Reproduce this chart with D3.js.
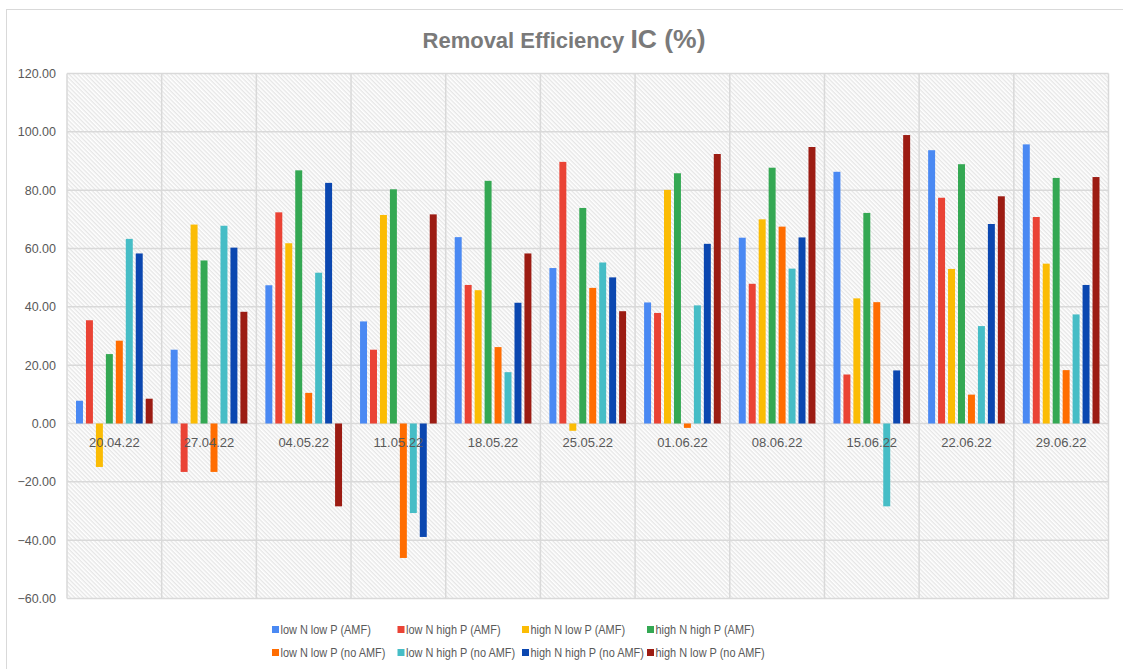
<!DOCTYPE html>
<html>
<head>
<meta charset="utf-8">
<script src="https://cdn.jsdelivr.net/npm/d3@7"></script>
<style>
  html, body { margin: 0; padding: 0; background: #fff; }
  svg { display: block; font-family: "Liberation Sans", Arial, sans-serif; }
</style>
</head>
<body>
<svg id="chart" width="1123" height="669"></svg>
<script>
const categories = ["20.04.22","27.04.22","04.05.22","11.05.22","18.05.22","25.05.22","01.06.22","08.06.22","15.06.22","22.06.22","29.06.22"];
const seriesNames = ["low N low P (AMF)","low N high P (AMF)","high N low P (AMF)","high N high P (AMF)","low N low P (no AMF)","low N high P (no AMF)","high N high P (no AMF)","high N low P (no AMF)"];
const seriesColors = ["#4a89f3","#ea4335","#fbbc04","#34a853","#ff6d01","#46bdc6","#0b47b0","#9c1c13"];
const lowNlowP_AMF     = [7.8, 25.3, 47.4, 35.0, 63.9, 53.3, 41.5, 63.7, 86.3, 93.7, 95.7];
const lowNhighP_AMF    = [35.4, -16.6, 72.4, 25.3, 47.5, 89.7, 37.9, 47.9, 16.8, 77.4, 70.8];
const highNlowP_AMF    = [-14.9, 68.2, 61.8, 71.5, 45.7, -2.5, 80.1, 70.0, 42.9, 53.0, 54.8];
const highNhighP_AMF   = [23.8, 55.9, 86.8, 80.3, 83.2, 73.9, 85.8, 87.7, 72.2, 88.9, 84.2];
const lowNlowP_noAMF   = [28.4, -16.6, 10.5, -46.1, 26.2, 46.5, -1.5, 67.5, 41.6, 9.9, 18.3];
const lowNhighP_noAMF  = [63.3, 67.8, 51.7, -30.7, 17.6, 55.2, 40.5, 53.1, -28.4, 33.4, 37.4];
const highNhighP_noAMF = [58.3, 60.3, 82.5, -38.9, 41.4, 50.1, 61.6, 63.8, 18.2, 68.4, 47.5];
const highNlowP_noAMF  = [8.5, 38.3, -28.4, 71.7, 58.3, 38.5, 92.4, 94.8, 98.9, 77.9, 84.5];
const seriesValues = [lowNlowP_AMF, lowNhighP_AMF, highNlowP_AMF, highNhighP_AMF, lowNlowP_noAMF, lowNhighP_noAMF, highNhighP_noAMF, highNlowP_noAMF];
const yTicks = [-60, -40, -20, 0, 20, 40, 60, 80, 100, 120];

(function () {
const svg = d3.select("#chart");
const W = 1123, H = 669;
const pLeft = 67, pRight = 1108.5, pTop = 73.5, pBottom = 598.5;

// outer frame
svg.append("rect").attr("x", 6.5).attr("y", 9.5).attr("width", W + 20).attr("height", H + 20)
  .attr("fill", "#fff").attr("stroke", "#d9d9d9").attr("stroke-width", 1);

// hatch pattern
const defs = svg.append("defs");
const pat = defs.append("pattern").attr("id", "hatch").attr("patternUnits", "userSpaceOnUse")
  .attr("width", 3).attr("height", 3).attr("patternTransform", "rotate(45)");
pat.append("rect").attr("width", 3).attr("height", 3).attr("fill", "#ffffff");
pat.append("line").attr("x1", 0).attr("y1", 0.75).attr("x2", 3).attr("y2", 0.75)
  .attr("stroke", "#e0e0e0").attr("stroke-width", 1.1);

const x0 = d3.scaleBand().domain(categories).range([pLeft, pRight]).padding(0);
const x1 = d3.scaleBand().domain(d3.range(seriesNames.length))
  .range([9, x0.bandwidth() - 9]).paddingInner(0.3).paddingOuter(0);
const y = d3.scaleLinear().domain([-60, 120]).range([pBottom, pTop]);

svg.append("rect").attr("x", pLeft).attr("y", pTop).attr("width", pRight - pLeft).attr("height", pBottom - pTop)
  .attr("fill", "url(#hatch)");

// horizontal gridlines
svg.append("g").selectAll("line").data(yTicks).join("line")
  .attr("x1", pLeft).attr("x2", pRight)
  .attr("y1", d => y(d)).attr("y2", d => y(d))
  .attr("stroke", "#d9d9d9").attr("stroke-width", 1.5);
// vertical gridlines at category boundaries
const bounds = categories.map(c => x0(c)).concat([pRight]);
svg.append("g").selectAll("line").data(bounds).join("line")
  .attr("x1", d => d).attr("x2", d => d)
  .attr("y1", pTop).attr("y2", pBottom)
  .attr("stroke", "#d9d9d9").attr("stroke-width", 1.5);

// y axis labels
const yAxis = d3.axisLeft(y).tickValues(yTicks).tickFormat(d3.format(".2f")).tickSize(0).tickPadding(0);
const ya = svg.append("g").attr("transform", `translate(${56},0)`).call(yAxis);
ya.select(".domain").remove();
ya.selectAll("text").attr("fill", "#595959").style("font-size", "12.5px")
  .style("font-family", "'Liberation Sans', Arial, sans-serif");

// bars
const groups = svg.append("g").selectAll("g").data(categories).join("g")
  .attr("transform", c => `translate(${x0(c)},0)`);
groups.selectAll("rect").data((c, i) => seriesValues.map((vals, s) => ({s, v: vals[i]}))).join("rect")
  .attr("x", d => x1(d.s))
  .attr("width", x1.bandwidth())
  .attr("y", d => y(Math.max(0, d.v)))
  .attr("height", d => Math.abs(y(d.v) - y(0)))
  .attr("fill", d => seriesColors[d.s]);

// category labels
svg.append("g").selectAll("text").data(categories).join("text")
  .attr("x", c => x0(c) + x0.bandwidth() / 2)
  .attr("y", y(0) + 23)
  .attr("text-anchor", "middle")
  .attr("fill", "#595959")
  .style("font-size", "13px")
  .text(c => c);

// title
const title = svg.append("text").attr("x", 564).attr("y", 48).attr("text-anchor", "middle")
  .attr("fill", "#7a7a7a").style("font-weight", "bold");
title.append("tspan").style("font-size", "22px").text("Removal Efficiency ");
title.append("tspan").style("font-size", "26.5px").text("IC (%)");

// legend
const legendX = [272, 397.5, 522, 647];
const legendY = [629.5, 652.5];
const leg = svg.append("g").selectAll("g").data(seriesNames).join("g")
  .attr("transform", (d, i) => `translate(${legendX[i % 4]},${legendY[Math.floor(i / 4)]})`);
leg.append("rect").attr("x", 0).attr("y", -3.5).attr("width", 7).attr("height", 7)
  .attr("fill", (d, i) => seriesColors[i]);
leg.append("text").attr("transform", "translate(8.5,4.5) scale(0.875,1)").attr("fill", "#595959")
  .style("font-size", "12.5px").text(d => d);
})();
</script>
</body>
</html>
